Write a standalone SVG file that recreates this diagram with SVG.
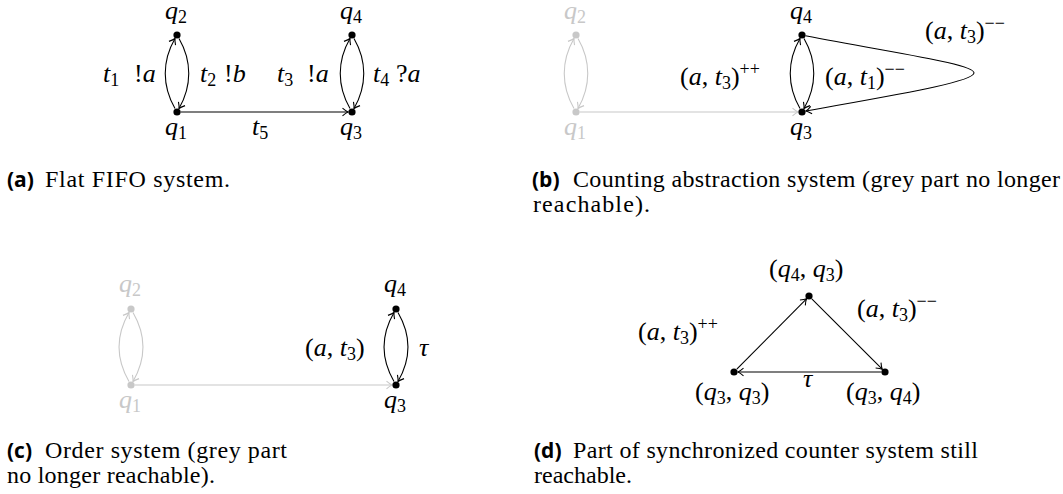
<svg xmlns="http://www.w3.org/2000/svg" width="1063" height="494" viewBox="0 0 1063 494">
<style>
.m{font-family:"Liberation Serif","Times New Roman",serif;font-size:26px;fill:#000}
.i{font-style:italic}
.s{font-size:18px}
.g{fill:#c8c8c8}
.cap{font-family:"Liberation Serif","Times New Roman",serif;font-size:24px;fill:#000}
.cb{font-family:"Open Sans",sans-serif;font-weight:bold;font-size:21px;fill:#000}
.e{fill:none;stroke:#000;stroke-width:1.1}
.eg{fill:none;stroke:#c8c8c8;stroke-width:1.1}
.d{fill:#000}
.dg{fill:#c8c8c8}
</style>
<defs>
<marker id="ab" markerUnits="userSpaceOnUse" markerWidth="12" markerHeight="12" refX="0" refY="0" viewBox="-7 -6 8 12" orient="auto" overflow="visible">
<path d="M-5.5,-3.8 Q-2,-0.8 0,0 Q-2,0.8 -5.5,3.8" fill="none" stroke="#000" stroke-width="1.1"/>
</marker>
<marker id="ag" markerUnits="userSpaceOnUse" markerWidth="12" markerHeight="12" refX="0" refY="0" viewBox="-7 -6 8 12" orient="auto" overflow="visible">
<path d="M-5.5,-3.8 Q-2,-0.8 0,0 Q-2,0.8 -5.5,3.8" fill="none" stroke="#c8c8c8" stroke-width="1.1"/>
</marker>
</defs>

<g id="connectors">
<!-- (a) -->
<path class="e" marker-end="url(#ab)" d="M175,108.5 C162,86 162,61 175,38.5"/>
<path class="e" marker-end="url(#ab)" d="M179,38.5 C192,61 192,86 179,108.5"/>
<path class="e" marker-end="url(#ab)" d="M350,108.5 C337,86 337,61 350,38.5"/>
<path class="e" marker-end="url(#ab)" d="M354,38.5 C367,61 367,86 354,108.5"/>
<path class="e" marker-end="url(#ab)" d="M180.5,112 L348,112"/>
<!-- (b) -->
<path class="eg" marker-end="url(#ag)" d="M574,108.5 C561,86 561,61 574,38.5"/>
<path class="eg" marker-end="url(#ag)" d="M578,38.5 C591,61 591,86 578,108.5"/>
<path class="eg" marker-end="url(#ag)" d="M579.5,112 L798,112"/>
<path class="e" marker-end="url(#ab)" d="M800,108.5 C787,86 787,61 800,38.5"/>
<path class="e" marker-end="url(#ab)" d="M804,38.5 C817,61 817,86 804,108.5"/>
<path class="e" marker-end="url(#ab)" d="M805.5,35.8 C900,54 975,64 974,73 C973,82 900,94 806,111"/>
<!-- (c) -->
<path class="eg" marker-end="url(#ag)" d="M129,381.5 C116,359 116,335 129,312.5"/>
<path class="eg" marker-end="url(#ag)" d="M133,312.5 C146,335 146,359 133,381.5"/>
<path class="eg" marker-end="url(#ag)" d="M134.5,385 L392,385"/>
<path class="e" marker-end="url(#ab)" d="M394,381.5 C381,359 381,335 394,312.5"/>
<path class="e" marker-end="url(#ab)" d="M398,312.5 C411,335 411,359 398,381.5"/>
<!-- (d) -->
<path class="e" marker-end="url(#ab)" d="M736.8,369.2 L806.5,298.8"/>
<path class="e" marker-end="url(#ab)" d="M811.8,298.8 L882.2,369.2"/>
<path class="e" marker-end="url(#ab)" d="M881.5,372 L738,372"/>
</g>

<!-- (a) nodes -->
<g id="a-q2"><circle class="d" cx="177" cy="35" r="3.6"/><text class="m" x="165" y="19"><tspan class="i">q</tspan><tspan class="s" dy="4">2</tspan></text></g>
<g id="a-q1"><circle class="d" cx="177" cy="112" r="3.6"/><text class="m" x="165" y="135"><tspan class="i">q</tspan><tspan class="s" dy="4">1</tspan></text></g>
<g id="a-q4"><circle class="d" cx="352" cy="35" r="3.6"/><text class="m" x="340" y="19"><tspan class="i">q</tspan><tspan class="s" dy="4">4</tspan></text></g>
<g id="a-q3"><circle class="d" cx="352" cy="112" r="3.6"/><text class="m" x="340" y="135"><tspan class="i">q</tspan><tspan class="s" dy="4">3</tspan></text></g>
<g id="a-labels">
<text class="m" x="103" y="82"><tspan class="i">t</tspan><tspan class="s" dy="4">1</tspan><tspan x="134" dy="-4">!</tspan><tspan class="i">a</tspan></text>
<text class="m" x="200" y="82"><tspan class="i">t</tspan><tspan class="s" dy="4">2</tspan><tspan x="224" dy="-4">!</tspan><tspan class="i">b</tspan></text>
<text class="m" x="277" y="82"><tspan class="i">t</tspan><tspan class="s" dy="4">3</tspan><tspan x="307" dy="-4">!</tspan><tspan class="i">a</tspan></text>
<text class="m" x="373" y="82"><tspan class="i">t</tspan><tspan class="s" dy="4">4</tspan><tspan x="396" dy="-4">?</tspan><tspan class="i">a</tspan></text>
<text class="m" x="252" y="135"><tspan class="i">t</tspan><tspan class="s" dy="4">5</tspan></text>
</g>

<!-- (b) nodes -->
<g id="b-q2"><circle class="dg" cx="576" cy="35" r="3.6"/><text class="m g" x="564" y="19"><tspan class="i">q</tspan><tspan class="s" dy="4">2</tspan></text></g>
<g id="b-q1"><circle class="dg" cx="576" cy="112" r="3.6"/><text class="m g" x="564" y="135"><tspan class="i">q</tspan><tspan class="s" dy="4">1</tspan></text></g>
<g id="b-q4"><circle class="d" cx="802" cy="35" r="3.6"/><text class="m" x="790" y="19"><tspan class="i">q</tspan><tspan class="s" dy="4">4</tspan></text></g>
<g id="b-q3"><circle class="d" cx="802" cy="112" r="3.6"/><text class="m" x="790" y="135"><tspan class="i">q</tspan><tspan class="s" dy="4">3</tspan></text></g>
<g id="b-labels">
<text class="m" x="680" y="85">(<tspan class="i">a</tspan>, <tspan class="i">t</tspan><tspan class="s" dy="4">3</tspan><tspan dy="-4">)</tspan><tspan class="s" dy="-10">++</tspan></text>
<text class="m" x="825" y="85">(<tspan class="i">a</tspan>, <tspan class="i">t</tspan><tspan class="s" dy="4">1</tspan><tspan dy="-4">)</tspan><tspan class="s" dy="-10">−−</tspan></text>
<text class="m" x="925" y="39">(<tspan class="i">a</tspan>, <tspan class="i">t</tspan><tspan class="s" dy="4">3</tspan><tspan dy="-4">)</tspan><tspan class="s" dy="-10">−−</tspan></text>
</g>

<!-- (c) nodes -->
<g id="c-q2"><circle class="dg" cx="131" cy="309" r="3.6"/><text class="m g" x="119" y="292"><tspan class="i">q</tspan><tspan class="s" dy="4">2</tspan></text></g>
<g id="c-q1"><circle class="dg" cx="131" cy="385" r="3.6"/><text class="m g" x="119" y="408"><tspan class="i">q</tspan><tspan class="s" dy="4">1</tspan></text></g>
<g id="c-q4"><circle class="d" cx="396" cy="309" r="3.6"/><text class="m" x="384" y="292"><tspan class="i">q</tspan><tspan class="s" dy="4">4</tspan></text></g>
<g id="c-q3"><circle class="d" cx="396" cy="385" r="3.6"/><text class="m" x="384" y="408"><tspan class="i">q</tspan><tspan class="s" dy="4">3</tspan></text></g>
<g id="c-labels">
<text class="m" x="305" y="356">(<tspan class="i">a</tspan>, <tspan class="i">t</tspan><tspan class="s" dy="4">3</tspan><tspan dy="-4">)</tspan></text>
<text class="m i" x="419" y="356">τ</text>
</g>

<!-- (d) nodes -->
<g id="d-q4q3"><circle class="d" cx="809" cy="296" r="3.6"/><text class="m" x="769" y="277">(<tspan class="i">q</tspan><tspan class="s" dy="4">4</tspan><tspan dy="-4">, </tspan><tspan class="i">q</tspan><tspan class="s" dy="4">3</tspan><tspan dy="-4">)</tspan></text></g>
<g id="d-q3q3"><circle class="d" cx="734" cy="372" r="3.6"/><text class="m" x="695" y="400">(<tspan class="i">q</tspan><tspan class="s" dy="4">3</tspan><tspan dy="-4">, </tspan><tspan class="i">q</tspan><tspan class="s" dy="4">3</tspan><tspan dy="-4">)</tspan></text></g>
<g id="d-q3q4"><circle class="d" cx="885" cy="372" r="3.6"/><text class="m" x="846" y="400">(<tspan class="i">q</tspan><tspan class="s" dy="4">3</tspan><tspan dy="-4">, </tspan><tspan class="i">q</tspan><tspan class="s" dy="4">4</tspan><tspan dy="-4">)</tspan></text></g>
<g id="d-labels">
<text class="m" x="857" y="317">(<tspan class="i">a</tspan>, <tspan class="i">t</tspan><tspan class="s" dy="4">3</tspan><tspan dy="-4">)</tspan><tspan class="s" dy="-10">−−</tspan></text>
<text class="m" x="638" y="340">(<tspan class="i">a</tspan>, <tspan class="i">t</tspan><tspan class="s" dy="4">3</tspan><tspan dy="-4">)</tspan><tspan class="s" dy="-10">++</tspan></text>
<text class="m i" x="803" y="387">τ</text>
</g>

<!-- captions -->
<g id="captions">
<text class="cb" x="7" y="187">(a)</text>
<text class="cap" x="45" y="187" textLength="185" lengthAdjust="spacing">Flat FIFO system.</text>
<text class="cb" x="532" y="187">(b)</text>
<text class="cap" x="573" y="187" textLength="487" lengthAdjust="spacing">Counting abstraction system (grey part no longer</text>
<text class="cap" x="533" y="212" textLength="117" lengthAdjust="spacing">reachable).</text>
<text class="cb" x="7" y="458">(c)</text>
<text class="cap" x="45" y="458" textLength="242" lengthAdjust="spacing">Order system (grey part</text>
<text class="cap" x="7" y="483" textLength="208" lengthAdjust="spacing">no longer reachable).</text>
<text class="cb" x="534" y="458">(d)</text>
<text class="cap" x="573" y="458" textLength="405" lengthAdjust="spacing">Part of synchronized counter system still</text>
<text class="cap" x="534" y="483" textLength="98" lengthAdjust="spacing">reachable.</text>
</g>
</svg>
